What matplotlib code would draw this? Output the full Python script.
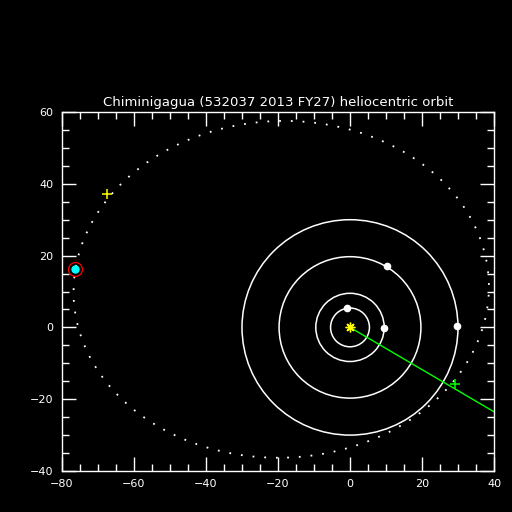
import matplotlib
matplotlib.use("Agg")
import matplotlib.pyplot as plt
from matplotlib.patches import Circle, Ellipse
from matplotlib.ticker import MultipleLocator

title = "Chiminigagua (532037 2013 FY27) heliocentric orbit"
xlim = (-80, 40)
ylim = (-40, 60)

# planet orbit radii (AU) and current positions
planet_radii = [5.4, 9.5, 19.7, 30.0]
planet_x = [-0.9, 9.4, 10.4, 29.8]
planet_y = [5.5, -0.3, 17.1, 0.4]

# projected orbit of the object (center, full width, full height, tilt)
orbit_center = (-19.1, 10.6)
orbit_width = 115.4
orbit_height = 93.8
orbit_angle = 2.0

# object position, earlier marker, green direction line
obj_x, obj_y = -76.5, 16.3
yellow_plus = (-67.6, 37.1)
green_plus = (29.3, -15.8)
line_x = [0, 60]
line_y = [0, -35.25]

fig = plt.figure(figsize=(5.12, 5.12), dpi=100, facecolor="black")
ax = fig.add_axes([62/512, 41/512, 432/512, 359/512], facecolor="black")

for r in planet_radii:
    ax.add_patch(Circle((0, 0), r, fill=False, edgecolor="white", lw=1.1))
ax.plot(planet_x, planet_y, "o", color="white", ms=4.5, mec="white")

ax.add_patch(Ellipse(orbit_center, orbit_width, orbit_height, angle=orbit_angle,
                     fill=False, edgecolor="white", lw=1.3, linestyle=(0, (1.0, 5.5))))

ax.plot(line_x, line_y, color="#00ff00", lw=1.0)
ax.plot(*green_plus, "+", color="#00ff00", ms=7, mew=1.1)
ax.plot(0, 0, marker=(8, 2, 0), color="yellow", ms=7, mew=1.0)
ax.plot(*yellow_plus, "+", color="yellow", ms=7, mew=1.1)
ax.plot(obj_x, obj_y, "o", color="cyan", ms=5)
ax.plot(obj_x, obj_y, "o", mfc="none", mec="red", ms=10, mew=0.9)

ax.set_xlim(*xlim)
ax.set_ylim(*ylim)
ax.xaxis.set_major_locator(MultipleLocator(20))
ax.xaxis.set_minor_locator(MultipleLocator(5))
ax.yaxis.set_major_locator(MultipleLocator(20))
ax.yaxis.set_minor_locator(MultipleLocator(5))
ax.tick_params(which="both", direction="in", top=True, right=True, colors="white",
               labelsize=8, width=1.0)
ax.tick_params(which="major", length=10, pad=6)
ax.tick_params(which="minor", length=5)
for s in ax.spines.values():
    s.set_color("white")
    s.set_linewidth(1.0)
ax.set_title(title, color="white", fontsize=9.5, pad=4)

fig.savefig("out.png", dpi=100, facecolor="black")
